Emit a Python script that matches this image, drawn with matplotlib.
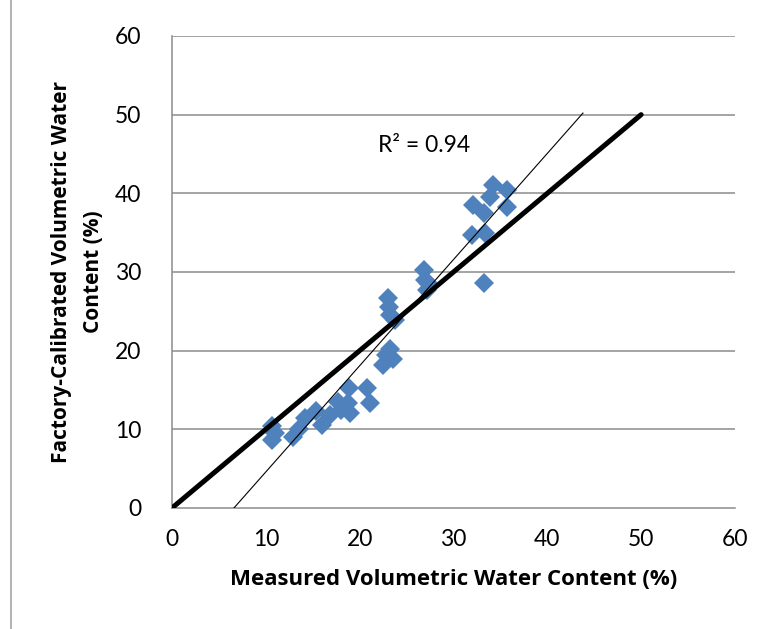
import matplotlib.pyplot as plt
from matplotlib.lines import Line2D

# Measured vs factory-calibrated volumetric water content (%)
measured = [10.7, 10.7, 12.9, 14.2, 15.3, 16.0, 16.8, 18.8, 18.9, 19.0,
            20.8, 21.1, 22.5, 22.8, 23.2, 23.5, 23.0, 23.1, 23.2, 23.8,
            26.9, 27.0, 27.2, 27.3, 34.2, 35.7, 32.1, 33.9, 35.7, 33.2,
            32.0, 33.4, 33.2, 17.7, 11.0, 13.5, 18.0]
factory = [10.4, 8.6, 9.0, 11.4, 12.3, 10.6, 11.8, 13.3, 15.3, 12.1,
           15.3, 13.3, 18.2, 19.4, 20.2, 18.9, 26.7, 25.5, 24.5, 23.9,
           30.2, 29.0, 27.7, 28.6, 41.0, 40.4, 38.5, 39.5, 38.2, 37.5,
           34.7, 34.9, 28.6, 13.5, 9.5, 10.0, 12.5]

# 1:1 line and linear trendline
one_to_one_x = [0, 50]
one_to_one_y = [0, 50]
trend_x = [6.6, 43.8]
trend_y = [0.0, 50.2]
r_squared = 0.94

ticks = [0, 10, 20, 30, 40, 50, 60]
font = 'Lato'
label_font = 'Open Sans'

fig = plt.figure(figsize=(7.7, 6.29), dpi=100)
ax = fig.add_axes([0.2234, 0.1924, 0.7311, 0.7504])

grid_col = '#8c8c8c'
for t in ticks[1:]:
    ax.axhline(t, color=grid_col, lw=1.1, zorder=1)

ax.plot(measured, factory, linestyle='none', marker='D', markersize=10.5,
        color='#4f81bd', markeredgewidth=0, zorder=3)
ax.plot(trend_x, trend_y, color='black', lw=0.8, zorder=4)
ax.plot(one_to_one_x, one_to_one_y, color='black', lw=3.6,
        solid_capstyle='round', zorder=5)

ax.text(22, 46.1, f'R² = {r_squared:.2f}', fontsize=16.5, family=font,
        va='center', ha='left')

ax.set_xlim(0, 60)
ax.set_ylim(0, 60)
ax.set_xticks(ticks)
ax.set_yticks(ticks)
ax.tick_params(length=0, labelsize=16.5, colors='black')
ax.tick_params(axis='x', pad=15)
ax.tick_params(axis='y', pad=22)
for lab in ax.get_xticklabels() + ax.get_yticklabels():
    lab.set_family(font)

for side in ['top', 'right']:
    ax.spines[side].set_visible(False)
for side in ['left', 'bottom']:
    ax.spines[side].set_color(grid_col)
    ax.spines[side].set_linewidth(1.1)

ax.set_xlabel('Measured Volumetric Water Content (%)', fontsize=16,
              fontweight='bold', family=label_font, labelpad=14)
ax.set_ylabel('Factory-Calibrated Volumetric Water\nContent (%)', fontsize=15,
              fontweight='bold', family=label_font, labelpad=8,
              linespacing=1.65)

# thin frame line along the left edge
fig.add_artist(Line2D([0.0143, 0.0143], [0, 1], transform=fig.transFigure,
                      color='#a6a6a6', lw=1.2))

fig.savefig('out.png', dpi=100)
